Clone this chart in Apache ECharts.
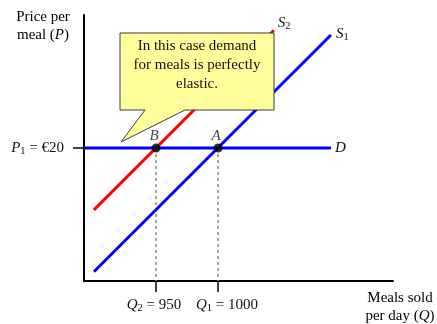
<!DOCTYPE html>
<html>
<head>
<meta charset="utf-8">
<script src="https://cdn.jsdelivr.net/npm/echarts@6/dist/echarts.min.js"></script>
<style>
  html, body { margin: 0; padding: 0; background: #fff; }
  #chart { width: 437px; height: 324px; }
</style>
</head>
<body>
<div id="chart"></div>
<script>
// Quantity (meals per day) and price (euro) values
const quantityRange = [892, 1141];
const priceRange = [0, 40];
const supplyS1 = [[900, 1.4], [1091, 37]];
const supplyS2 = [[900, 10.7], [1045, 37.7]];
const demandD = [[892, 20], [1091, 20]];
const equilibria = [
  { name: 'B', q: 950, p: 20 },
  { name: 'A', q: 1000, p: 20 }
];
const priceP1 = 20;
const quantityTicks = [950, 1000];
const quantityLabels = { 950: '{i|Q}{sub|2}{t| = 950}{padR|}', 1000: '{pad|}{i|Q}{sub|1}{t| = 1000}' };
const calloutLines = ['In this case demand', 'for meals is perfectly', 'elastic.'];

const SERIF = '"Liberation Serif", "Times New Roman", serif';
const FS = 15;
const richBase = {
  i: { fontFamily: SERIF, fontStyle: 'italic', fontSize: FS, color: '#111' },
  t: { fontFamily: SERIF, fontSize: FS, color: '#111' },
  sub: { fontFamily: SERIF, fontSize: 10.5, color: '#111', verticalAlign: 'bottom', padding: [6, 0, 0, 0] },
  pad: { width: 18 },
  padR: { width: 4 }
};

const chart = echarts.init(document.getElementById('chart'), null, { renderer: 'canvas' });

const option = {
  animation: false,
  backgroundColor: '#fff',
  grid: { left: 84, right: 44, top: 15, bottom: 43, containLabel: false },
  xAxis: {
    type: 'value',
    min: quantityRange[0],
    max: quantityRange[1],
    splitLine: { show: false },
    axisLine: { lineStyle: { color: '#000', width: 2 } },
    axisTick: { show: true, customValues: quantityTicks, length: 11, lineStyle: { color: '#000', width: 1.5 } },
    axisLabel: {
      customValues: quantityTicks,
      margin: 16,
      formatter: v => quantityLabels[v] || '',
      rich: richBase
    }
  },
  yAxis: {
    type: 'value',
    min: priceRange[0],
    max: priceRange[1],
    splitLine: { show: false },
    axisLine: { show: true, lineStyle: { color: '#000', width: 2 } },
    axisTick: { show: true, customValues: [priceP1], length: 11, lineStyle: { color: '#000', width: 1.5 } },
    axisLabel: {
      customValues: [priceP1],
      margin: 20,
      formatter: v => '{i|P}{sub|1}{t| = €' + v + '}',
      rich: richBase
    }
  },
  series: [
    {
      name: 'S2',
      type: 'line',
      data: supplyS2,
      symbol: 'none',
      lineStyle: { color: '#ff0000', width: 3 },
      endLabel: {
        show: true,
        formatter: '{i|S}{sub|2}',
        rich: richBase,
        offset: [-4, -7]
      },
      z: 3
    },
    {
      name: 'S1',
      type: 'line',
      data: supplyS1,
      symbol: 'none',
      lineStyle: { color: '#0000ff', width: 3 },
      endLabel: {
        show: true,
        formatter: '{i|S}{sub|1}',
        rich: richBase,
        offset: [-3, -1]
      },
      z: 3
    },
    {
      name: 'D',
      type: 'line',
      data: demandD,
      symbol: 'none',
      lineStyle: { color: '#0000ff', width: 3 },
      endLabel: {
        show: true,
        formatter: '{i|D}',
        rich: richBase,
        offset: [-4, 0]
      },
      z: 3
    },
    // dashed drop lines from each equilibrium to the quantity axis
    ...equilibria.map(e => ({
      type: 'line',
      data: [[e.q, e.p], [e.q, priceRange[0]]],
      symbol: 'none',
      lineStyle: { color: '#888', width: 1.5, type: [3, 3] },
      z: 2
    })),
    {
      name: 'points',
      type: 'scatter',
      data: equilibria.map(e => ({ name: e.name, value: [e.q, e.p] })),
      symbolSize: 9,
      itemStyle: { color: '#000' },
      label: {
        show: true,
        position: 'top',
        offset: [-2, 5],
        formatter: p => p.name,
        fontFamily: SERIF,
        fontStyle: 'italic',
        fontSize: FS,
        color: '#111'
      },
      z: 5
    }
  ],
  graphic: [
    {
      type: 'text',
      x: 43,
      y: 8,
      z: 50,
      style: {
        text: '{t|Price per}\n{t|meal (}{i|P}{t|)}',
        align: 'center',
        verticalAlign: 'top',
        rich: {
          t: { fontFamily: SERIF, fontSize: FS, color: '#111', lineHeight: 18 },
          i: { fontFamily: SERIF, fontStyle: 'italic', fontSize: FS, color: '#111', lineHeight: 18 }
        }
      }
    },
    {
      type: 'text',
      x: 400,
      y: 289,
      z: 50,
      style: {
        text: '{t|Meals sold}\n{t|per day (}{i|Q}{t|)}',
        align: 'center',
        verticalAlign: 'top',
        rich: {
          t: { fontFamily: SERIF, fontSize: FS, color: '#111', lineHeight: 18 },
          i: { fontFamily: SERIF, fontStyle: 'italic', fontSize: FS, color: '#111', lineHeight: 18 }
        }
      }
    },
    {
      type: 'polygon',
      z: 100,
      shape: {
        points: [[120, 33], [274, 33], [274, 110], [185, 110], [121, 142], [145, 110], [120, 110]]
      },
      style: { fill: '#ffff9c', stroke: '#3a3a3a', lineWidth: 1 }
    },
    {
      type: 'text',
      z: 101,
      x: 197,
      y: 37,
      style: {
        text: calloutLines.join('\n'),
        fontFamily: SERIF,
        fontSize: FS,
        lineHeight: 19,
        fill: '#111',
        align: 'center',
        verticalAlign: 'top'
      }
    }
  ]
};

chart.setOption(option);
</script>
</body>
</html>
